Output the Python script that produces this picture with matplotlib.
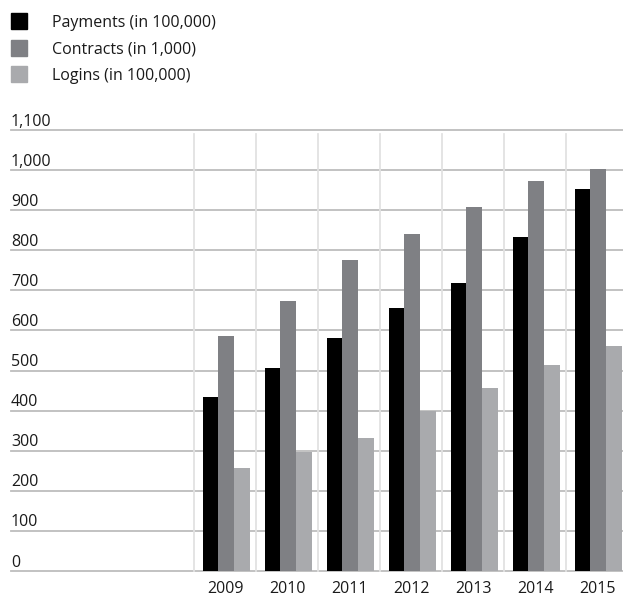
import matplotlib
matplotlib.use("Agg")
import matplotlib.pyplot as plt
from matplotlib.patches import Rectangle
import numpy as np

years = ["2009", "2010", "2011", "2012", "2013", "2014", "2015"]
series_names = ["Payments (in 100,000)", "Contracts (in 1,000)", "Logins (in 100,000)"]
payments = [433, 506, 582, 657, 719, 833, 953]
contracts = [585, 674, 776, 841, 908, 973, 1002]
logins = [257, 296, 331, 400, 456, 515, 562]
y_ticks = [0, 100, 200, 300, 400, 500, 600, 700, 800, 900, 1000, 1100]
y_tick_labels = ["0", "100", "200", "300", "400", "500", "600", "700", "800", "900", "1,000", "1,100"]

colors = ["#000000", "#7f8084", "#a9aaad"]
font = "Open Sans"
text_color = "#1a1a1a"
fs = 11.5

W, H, DPI = 623, 596, 100
fig = plt.figure(figsize=(W / DPI, H / DPI), dpi=DPI)

# axes frame in pixel terms
left_px, right_px = 11, 623
bottom_px, top_px = 571, 130
ax = fig.add_axes([left_px / W, (H - bottom_px) / H,
                   (right_px - left_px) / W, (bottom_px - top_px) / H])

cell_px = 62.0
first_cell_px = 194.0
ax.set_xlim(-(first_cell_px - left_px) / cell_px, (right_px - first_cell_px) / cell_px)
ax.set_ylim(0, 1100)
ax.axis("off")

# horizontal grid
for v in y_ticks:
    ax.axhline(v, color="#bdbdbd", lw=1.3, clip_on=False, zorder=1)

# vertical category separators
for i in range(len(years)):
    ax.plot([i, i], [0, 1090], color="#e2e2e2", lw=1.3, zorder=1, clip_on=False)

# grouped bars
bw = 15.7 / cell_px
centers = np.arange(len(years)) + 0.52
for k, vals in enumerate([payments, contracts, logins]):
    ax.bar(centers + (k - 1) * bw, vals, width=bw, color=colors[k],
           zorder=3, linewidth=0)

# y labels above each gridline
for v, lab in zip(y_ticks, y_tick_labels):
    ax.annotate(lab, xy=(0, v), xycoords=("axes fraction", "data"),
                xytext=(0, 3.2), textcoords="offset points",
                ha="left", va="baseline", fontsize=fs, family=font,
                color=text_color)

# year labels
for i, yr in enumerate(years):
    ax.annotate(yr, xy=(i + 0.5, 0), xycoords="data",
                xytext=(0, -15.8), textcoords="offset points",
                ha="center", va="baseline", fontsize=fs, family=font,
                color=text_color, annotation_clip=False)

# legend
for k, name in enumerate(series_names):
    yc = 21 + k * 26.5
    fig.patches.append(Rectangle((11 / W, (H - yc - 8) / H), 16 / W, 16 / H,
                                 transform=fig.transFigure, color=colors[k]))
    fig.text(52 / W, (H - yc) / H, name, ha="left", va="center_baseline",
             fontsize=fs, family=font, color=text_color)

fig.savefig("out.png", dpi=DPI)
